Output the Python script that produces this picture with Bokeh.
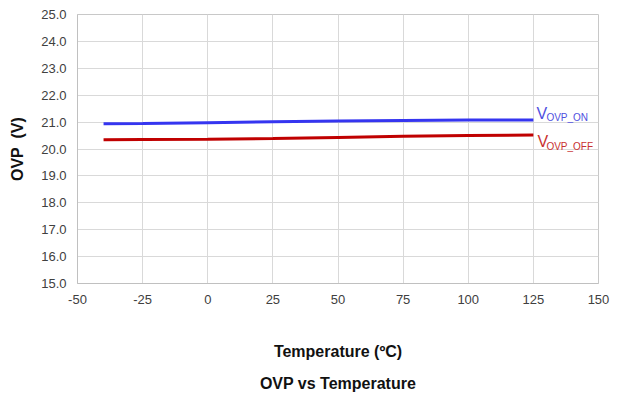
from bokeh.plotting import figure
from bokeh.models import Range1d, FixedTicker, Label, Title, NumeralTickFormatter
from bokeh.embed import file_html
from bokeh.resources import INLINE

# Data
temps = [-40, -25, 0, 25, 50, 75, 100, 125]
vovp_on = [20.94, 20.95, 20.98, 21.01, 21.04, 21.06, 21.08, 21.08]
vovp_off = [20.34, 20.35, 20.36, 20.39, 20.43, 20.47, 20.50, 20.52]
x_ticks = [-50, -25, 0, 25, 50, 75, 100, 125, 150]
x_labels = ["-50", "-25", "0", "25", "50", "75", "100", "125", "150"]
y_ticks = [15, 16, 17, 18, 19, 20, 21, 22, 23, 24, 25]

FONT = "Liberation Sans"
BLUE = "#3535f0"
RED = "#c00000"

p = figure(
    output_backend="svg", toolbar_location=None,
    width=615, height=394,
    frame_width=521, frame_height=269,
    x_range=Range1d(-50, 150), y_range=Range1d(15, 25),
    min_border_left=77, min_border_top=14, min_border_right=17,
    background_fill_color="white", border_fill_color="white",
)
p.outline_line_color = "#c8c8c8"

p.line(temps, vovp_on, line_color=BLUE, line_width=3)
p.line(temps, vovp_off, line_color=RED, line_width=3)

# Axes
p.xaxis.ticker = FixedTicker(ticks=x_ticks)
p.xaxis.major_label_overrides = {t: l for t, l in zip(x_ticks, x_labels)}
p.yaxis.ticker = FixedTicker(ticks=y_ticks)
p.yaxis.formatter = NumeralTickFormatter(format="0.0")
for ax in (p.xaxis[0], p.yaxis[0]):
    ax.axis_line_color = "#c0c0c0"
    ax.major_tick_line_color = None
    ax.minor_tick_line_color = None
    ax.major_tick_out = 0
    ax.major_tick_in = 0
    ax.major_label_text_font = FONT
    ax.major_label_text_font_size = "13px"
    ax.major_label_text_color = "#404040"
    ax.major_label_standoff = 11
    ax.axis_label_text_font = FONT
    ax.axis_label_text_font_style = "bold"
    ax.axis_label_text_font_size = "16px"
    ax.axis_label_text_color = "#111111"

p.xaxis.axis_label = "Temperature (ºC)"
p.xaxis.axis_label_standoff = 36
p.yaxis.axis_label = "OVP \u00a0(V)"
p.yaxis.axis_label_standoff = 12

p.xgrid.grid_line_color = "#d9d9d9"
p.ygrid.grid_line_color = "#d9d9d9"

# Title below
t = Title(text="OVP vs Temperature", align="center", text_font=FONT,
          text_font_style="bold", text_font_size="16px", text_color="#111111",
          standoff=20)
p.add_layout(t, "below")

# Series labels with subscripts
p.add_layout(Label(x=temps[-1], y=vovp_on[-1], x_offset=3, y_offset=6, text="V",
                   text_font=FONT, text_font_size="16px", text_color="#5050e0",
                   text_baseline="alphabetic"))
p.add_layout(Label(x=temps[-1], y=vovp_on[-1], x_offset=13, y_offset=2, text="OVP_ON",
                   text_font=FONT, text_font_size="10px", text_color="#5050e0",
                   text_baseline="alphabetic"))
p.add_layout(Label(x=temps[-1], y=vovp_off[-1], x_offset=4, y_offset=-6, text="V",
                   text_font=FONT, text_font_size="16px", text_color="#c83030",
                   text_baseline="alphabetic"))
p.add_layout(Label(x=temps[-1], y=vovp_off[-1], x_offset=13, y_offset=-11, text="OVP_OFF",
                   text_font=FONT, text_font_size="10px", text_color="#c83030",
                   text_baseline="alphabetic"))

open("out.html", "w").write(file_html(p, INLINE))
